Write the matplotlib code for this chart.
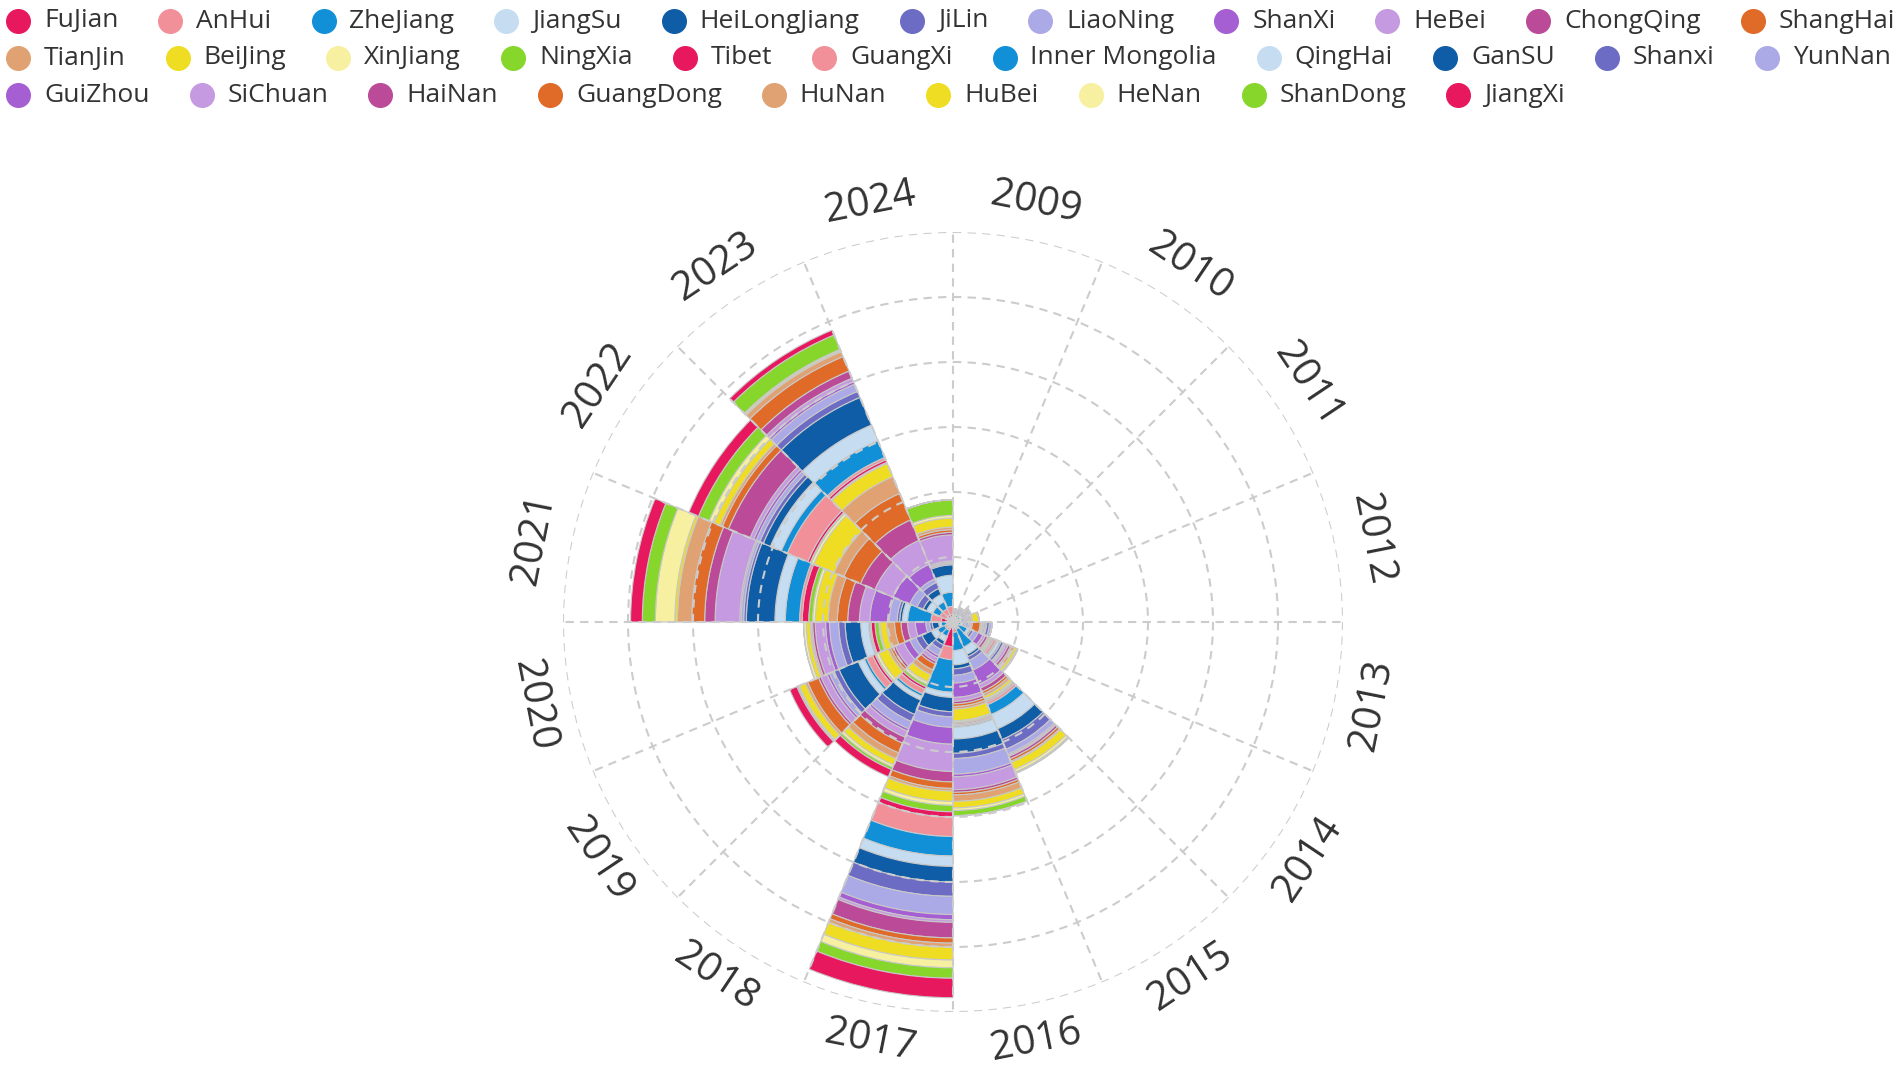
#!/usr/bin/env python3
"""Stacked rose chart of provincial counts per year, 2009-2024."""

import matplotlib

matplotlib.use("Agg")

import matplotlib.pyplot as plt
import numpy as np
from matplotlib.lines import Line2D

W, H = 1902, 1070

years = list(range(2009, 2025))

provinces = [
    "FuJian", "AnHui", "ZheJiang", "JiangSu", "HeiLongJiang", "JiLin", "LiaoNing",
    "ShanXi", "HeBei", "ChongQing", "ShangHai", "TianJin", "BeiJing", "XinJiang",
    "NingXia", "Tibet", "GuangXi", "Inner Mongolia", "QingHai", "GanSU", "Shanxi",
    "YunNan", "GuiZhou", "SiChuan", "HaiNan", "GuangDong", "HuNan", "HuBei",
    "HeNan", "ShanDong", "JiangXi",
]

# 15 colours, reused in order for the 31 provinces
palette = [
    "#E8185E", "#F2909A", "#1190D8", "#C6DDF1", "#0E5DA6", "#6C6CC4", "#ABA9E6",
    "#A55FD2", "#C59AE0", "#BB4B98", "#E06A28", "#E0A273", "#EEDD22", "#F7F0A0",
    "#86D62B",
]

# values per year, same order as provinces
v2009 = [2, 1, 2, 1, 1, 1, 1, 1, 0, 0, 0, 0, 0, 0, 0, 0, 0, 0, 0, 0, 0, 0, 0, 0, 0, 0, 0, 0, 0, 0, 0]
v2010 = [2, 2, 2, 1, 1, 1, 1, 1, 1, 0, 0, 0, 0, 0, 0, 0, 0, 0, 0, 0, 0, 0, 0, 0, 0, 0, 0, 0, 0, 0, 0]
v2011 = [2, 2, 2, 2, 1, 1, 1, 1, 1, 1, 1, 0, 0, 0, 0, 0, 0, 0, 0, 0, 0, 0, 0, 0, 0, 0, 0, 0, 0, 0, 0]
v2012 = [2, 1, 2, 2, 1, 1, 1, 1, 1, 1, 1, 1, 5, 0, 0, 0, 0, 0, 0, 0, 0, 0, 0, 0, 0, 0, 0, 0, 0, 0, 0]
v2013 = [2, 2, 2, 2, 1, 1, 2, 1, 1, 1, 6, 1, 1, 0, 0, 0, 1, 1, 1, 0, 2, 2, 0, 0, 0, 0, 0, 0, 0, 0, 0]
v2014 = [2, 2, 8, 2, 1, 2, 4, 4, 2, 2, 1, 1, 1, 0, 1, 1, 2, 1, 2, 1, 2, 1, 1, 2, 2, 1, 2, 2, 1, 0, 0]
v2015 = [4, 2, 15, 6, 2, 3, 8, 12, 3, 3, 2, 2, 2, 1, 1, 1, 2, 8, 12, 9, 8, 4, 1, 1, 2, 2, 1, 6, 2, 1, 0]
v2016 = [4, 4, 14, 11, 3, 5, 6, 11, 3, 2, 2, 2, 9, 1, 1, 1, 1, 1, 9, 11, 4, 12, 2, 10, 2, 2, 5, 5, 2, 4, 0]
v2017 = [19, 10, 25, 4, 11, 4, 8, 13, 21, 8, 5, 2, 8, 3, 5, 4, 15, 15, 8, 12, 11, 14, 4, 2, 12, 4, 3, 10, 6, 8, 15]
v2018 = [3, 4, 5, 4, 3, 4, 5, 2, 3, 2, 5, 4, 6, 2, 2, 2, 4, 2, 3, 12, 6, 6, 2, 5, 5, 8, 5, 5, 2, 2, 6]
v2019 = [4, 3, 6, 5, 8, 5, 5, 5, 7, 2, 2, 2, 8, 2, 1, 2, 5, 2, 5, 16, 4, 4, 2, 5, 2, 9, 2, 5, 1, 1, 6]
v2020 = [3, 2, 4, 2, 5, 2, 3, 8, 6, 5, 5, 6, 5, 1, 3, 3, 1, 1, 6, 12, 5, 7, 3, 8, 2, 1, 1, 3, 2, 0, 0]
v2021 = [9, 8, 18, 4, 2, 2, 6, 15, 8, 9, 8, 7, 10, 2, 3, 5, 2, 11, 8, 22, 2, 2, 1, 19, 8, 10, 11, 2, 15, 10, 9]
v2022 = [5, 6, 6, 5, 3, 5, 6, 14, 15, 12, 14, 8, 17, 2, 1, 2, 17, 5, 9, 6, 3, 3, 2, 3, 18, 5, 2, 5, 4, 9, 8]
v2023 = [6, 5, 6, 6, 5, 5, 3, 12, 20, 17, 22, 14, 11, 1, 0, 2, 2, 14, 13, 23, 5, 6, 2, 3, 6, 12, 4, 1, 1, 12, 4]
v2024 = [6, 6, 11, 13, 8, 1, 1, 1, 20, 2, 2, 2, 7, 2, 12, 0, 0, 0, 0, 0, 0, 0, 0, 0, 0, 0, 0, 0, 0, 0, 0]

yearly = [v2009, v2010, v2011, v2012, v2013, v2014, v2015, v2016,
          v2017, v2018, v2019, v2020, v2021, v2022, v2023, v2024]

r_ticks = [50, 100, 150, 200, 250, 300]

TEXT = "#333333"
GRID = "#cccccc"


def draw_rose(fig):
    # centre at (953, 622) px, outer ring radius 390 px
    cx, cy, rad = 953, 622, 390
    ax = fig.add_axes([(cx - rad) / W, (H - cy - rad) / H, 2 * rad / W, 2 * rad / H],
                      projection="polar")
    ax.set_theta_zero_location("N")
    ax.set_theta_direction(-1)

    n = len(years)
    step = 2 * np.pi / n
    lefts = np.arange(n) * step
    data = np.array(yearly, dtype=float)  # years x provinces
    bottoms = np.zeros(n)
    for j, name in enumerate(provinces):
        heights = data[:, j]
        ax.bar(lefts, heights, width=step, bottom=bottoms, align="edge",
               color=palette[j % len(palette)], edgecolor="#c8c8c8", linewidth=0.8)
        bottoms = bottoms + heights

    ax.set_ylim(0, r_ticks[-1])
    ax.set_yticks(r_ticks)
    ax.set_yticklabels([])
    ax.set_xticks(lefts)
    ax.set_xticklabels([])
    ax.tick_params(length=0)
    ax.grid(True, color=GRID, linestyle=(0, (4, 3)), linewidth=1.5)
    ax.spines["polar"].set_visible(False)

    label_r = r_ticks[-1] * 427 / 390
    for i, year in enumerate(years):
        deg = (i + 0.5) * 360 / n
        rot = -deg + 180 if 90 < deg < 270 else -deg
        ax.text(np.deg2rad(deg), label_r, str(year), rotation=rot,
                rotation_mode="anchor", ha="center", va="center",
                fontsize=29, color=TEXT, clip_on=False)
    return ax


def draw_legend(fig):
    renderer = fig.canvas.get_renderer()
    x0, y0, row_h = 18, 21, 37
    gap_marker, gap_item = 26, 52
    x, row = x0, 0
    for j, name in enumerate(provinces):
        t = fig.text(0, 0, name, fontsize=19, color=TEXT, va="center", ha="left")
        w = t.get_window_extent(renderer).width
        if x + gap_marker + w > W:
            x, row = x0, row + 1
        y = H - y0 - row * row_h
        t.set_position(((x + gap_marker) / W, y / H))
        fig.add_artist(Line2D([x / W], [y / H], transform=fig.transFigure,
                              marker="o", markersize=17, linestyle="none",
                              color=palette[j % len(palette)]))
        x += gap_marker + w + gap_item


def main():
    plt.rcParams["font.family"] = ["Open Sans", "DejaVu Sans"]
    fig = plt.figure(figsize=(W / 100, H / 100), dpi=100)
    fig.patch.set_facecolor("white")
    draw_rose(fig)
    draw_legend(fig)
    fig.savefig("out.png", dpi=100, facecolor="white")
    plt.close(fig)
    return 0


if __name__ == "__main__":
    raise SystemExit(main())
